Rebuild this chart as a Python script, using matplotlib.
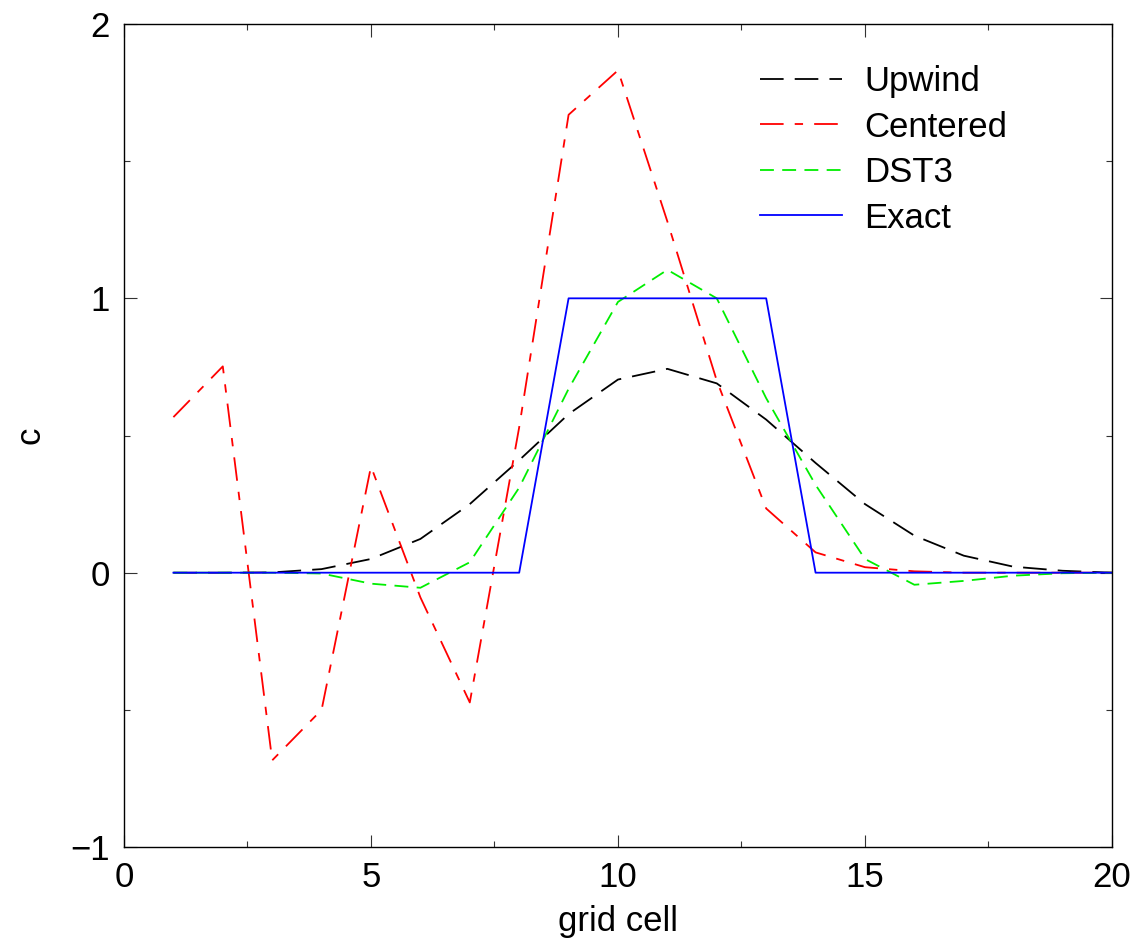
import matplotlib
matplotlib.use("Agg")
import matplotlib.pyplot as plt
from matplotlib.ticker import MultipleLocator

plt.rcParams['font.family'] = ['Liberation Sans', 'DejaVu Sans']
plt.rcParams['lines.scale_dashes'] = False

cells = list(range(1, 21))
upwind = [0.0, 0.0, 0.001, 0.013, 0.05, 0.123, 0.25, 0.41, 0.578, 0.704,
          0.743, 0.69, 0.558, 0.40, 0.25, 0.135, 0.062, 0.022, 0.007, 0.0]
centered = [0.567, 0.752, -0.684, -0.50, 0.387, -0.09, -0.473, 0.53, 1.669, 1.831,
            1.28, 0.70, 0.234, 0.074, 0.02, 0.005, 0.0, 0.0, 0.0, 0.0]
dst3 = [0.0, 0.0, 0.0, -0.003, -0.04, -0.055, 0.038, 0.31, 0.67, 0.987,
        1.104, 1.0, 0.636, 0.32, 0.05, -0.044, -0.03, -0.011, -0.002, 0.0]
exact = [0, 0, 0, 0, 0, 0, 0, 0, 1, 1, 1, 1, 1, 0, 0, 0, 0, 0, 0, 0]

fig = plt.figure(figsize=(11.46, 9.48), dpi=100)
ax = fig.add_axes([0.1082, 0.1065, 0.8621, 0.8682])

lw = 1.3
ax.plot(cells, upwind, color='black', lw=lw, dashes=(17, 8), label='Upwind')
ax.plot(cells, centered, color='red', lw=lw, dashes=(17, 8, 6, 8), label='Centered')
ax.plot(cells, dst3, color='#00ee00', lw=lw, dashes=(10, 6), label='DST3')
ax.plot(cells, exact, color='blue', lw=lw, label='Exact')

ax.set_xlim(0, 20)
ax.set_ylim(-1, 2)
ax.xaxis.set_major_locator(MultipleLocator(5))
ax.xaxis.set_minor_locator(MultipleLocator(2.5))
ax.yaxis.set_major_locator(MultipleLocator(1))
ax.yaxis.set_minor_locator(MultipleLocator(0.5))
ax.tick_params(which='both', direction='in', top=True, right=True,
               labelsize=25, width=0.8, color='#333333')
ax.tick_params(which='major', length=9, pad=10)
ax.tick_params(which='minor', length=4.5)
for s in ax.spines.values():
    s.set_linewidth(1.0)

ax.set_xlabel('grid cell', fontsize=25)
ax.set_ylabel('c', fontsize=25)
ax.xaxis.set_label_coords(0.5, -0.071)
ax.yaxis.set_label_coords(-0.078, 0.5)

ax.legend(loc='upper left', bbox_to_anchor=(0.644, 0.950), frameon=False,
          fontsize=25, handlelength=2.35, handletextpad=0.64,
          labelspacing=0.36, borderpad=0, borderaxespad=0)

fig.savefig('out.png', dpi=100)
